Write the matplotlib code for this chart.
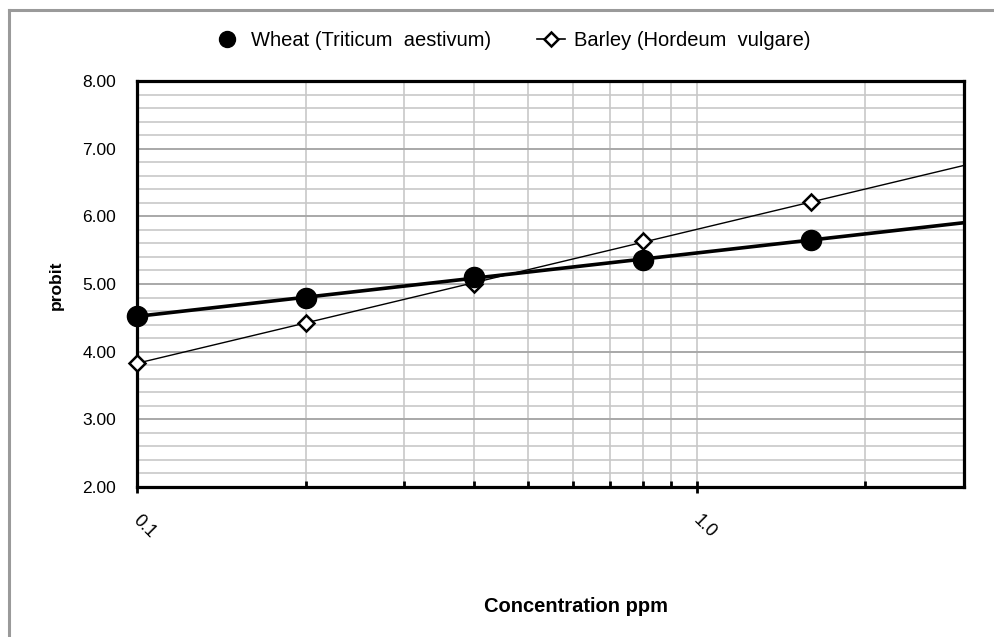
import numpy as np
import matplotlib
matplotlib.use("Agg")
import matplotlib.pyplot as plt
from matplotlib.lines import Line2D
from matplotlib.ticker import FixedLocator, NullFormatter

plt.rcParams['font.family'] = ['Liberation Sans', 'DejaVu Sans']

# ── data ──────────────────────────────────────────────────────────────────────
conc = [0.1, 0.2, 0.4, 0.8, 1.6]
wheat = [4.52, 4.80, 5.10, 5.36, 5.65]
barley = [3.83, 4.43, 5.00, 5.63, 6.21]
x_ticks = [0.1, 1.0]
x_tick_labels = ["0.1", "1.0"]
y_ticks = [2, 3, 4, 5, 6, 7, 8]
y_tick_labels = ["2.00", "3.00", "4.00", "5.00", "6.00", "7.00", "8.00"]
x_min, x_max = 0.1, 3.0

W, H = 995, 637
fig = plt.figure(figsize=(W / 100, H / 100), dpi=100)

# gray outer frame (left + top only visible)
fig.add_artist(Line2D([9 / W, 9 / W], [0, 1 - 10 / H], transform=fig.transFigure,
                      color="#9a9a9a", lw=2.2))
fig.add_artist(Line2D([9 / W, 1], [1 - 10 / H, 1 - 10 / H], transform=fig.transFigure,
                      color="#9a9a9a", lw=2.2))

ax = fig.add_axes([137 / W, 1 - 487 / H, (964 - 137) / W, (487 - 81) / H])
ax.set_xscale("log")
ax.set_xlim(x_min, x_max)
ax.set_ylim(2, 8)

# grid
ax.yaxis.set_minor_locator(FixedLocator(np.arange(2, 8.01, 0.2)))
minor_x = [v for v in list(np.arange(0.2, 1.0, 0.1)) + [2.0, 3.0]]
ax.xaxis.set_minor_locator(FixedLocator(minor_x))
ax.xaxis.set_minor_formatter(NullFormatter())
ax.grid(which="minor", axis="both", color="#c8c8c8", lw=1.2, zorder=0)
ax.grid(which="major", axis="y", color="#a8a8a8", lw=1.4, zorder=0)
ax.grid(which="major", axis="x", color="#c8c8c8", lw=1.2, zorder=0)
ax.set_axisbelow(True)

# trend lines (least squares in log10 x)
xs = np.geomspace(x_min, x_max, 200)
for vals, lw in [(wheat, 2.6), (barley, 1.0)]:
    k, b = np.polyfit(np.log10(conc), vals, 1)
    ax.plot(xs, k * np.log10(xs) + b, color="black", lw=lw, zorder=3)

ax.plot(conc, wheat, "o", color="black", ms=14.5, zorder=5, clip_on=False)
ax.plot(conc, barley, "D", mfc="white", mec="black", mew=1.8, ms=8.5, zorder=4,
        clip_on=False)

# ticks
ax.set_xticks(x_ticks)
ax.set_xticklabels([])
ax.set_yticks(y_ticks)
ax.set_yticklabels(y_tick_labels, fontsize=12.5)
ax.tick_params(axis="y", which="both", length=0, pad=15)
ax.tick_params(axis="x", which="major", direction="inout", length=9, width=2)
ax.tick_params(axis="x", which="minor", direction="in", length=4, width=2)
for xv, lab in zip(x_ticks, x_tick_labels):
    ax.annotate(lab, (xv, 0), xycoords=("data", "axes fraction"),
                xytext=(-1, -22), textcoords="offset points",
                rotation=-45, rotation_mode="anchor", ha="left", va="center",
                fontsize=13)

for s in ax.spines.values():
    s.set_linewidth(2.3)
    s.set_color("black")

fig.text(56 / W, 1 - 285 / H, "probit", rotation=90, ha="center", va="center",
         fontsize=12.5, fontweight="bold")
fig.text(576 / W, 1 - 606 / H, "Concentration ppm", ha="center", va="center",
         fontsize=14.5, fontweight="bold")

handles = [
    Line2D([], [], ls="none", marker="o", color="black", ms=11.5),
    Line2D([], [], color="black", lw=1.2, marker="D", mfc="white", mec="black",
           mew=1.8, ms=7.5),
]
fig.legend(handles, ["Wheat (Triticum  aestivum)", "Barley (Hordeum  vulgare)"],
           loc="center", bbox_to_anchor=(512 / W, 1 - 41 / H), ncol=2,
           frameon=False, fontsize=14.5, handlelength=1.4, handletextpad=0.45,
           columnspacing=2.3)

fig.savefig("out.png", dpi=100)
